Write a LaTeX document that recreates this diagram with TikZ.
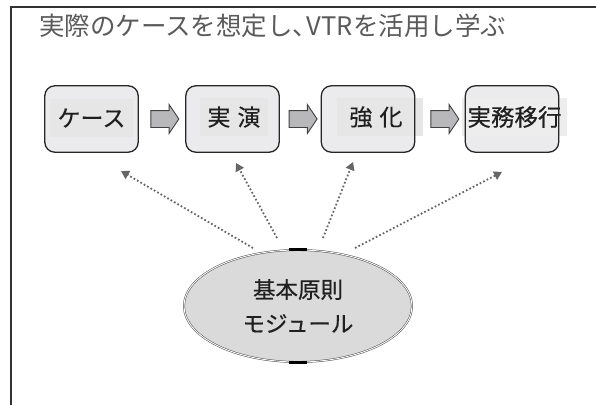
\documentclass[tikz,border=0pt]{standalone}
\usepackage{fontspec}
\setmainfont{Noto Sans CJK JP}
\usetikzlibrary{arrows.meta,shapes.geometric,shapes.arrows}
\definecolor{framec}{HTML}{333333}
\definecolor{titlec}{HTML}{5A5A5A}
\definecolor{boxfill}{HTML}{EBEBED}
\definecolor{hlfill}{HTML}{E6E6E7}
\definecolor{arrfill}{HTML}{B8B8BA}
\definecolor{ellfill}{HTML}{DADADA}
\definecolor{dotc}{HTML}{666666}
\tikzset{
  stepbox/.style={rounded corners=10pt, minimum width=93pt, minimum height=66pt, fill=boxfill, inner sep=0pt},
  boxline/.style={draw=black!85, line width=1.3pt, rounded corners=10pt},
  hl/.style={fill=hlfill, inner sep=0pt, minimum height=38pt, text=black!88, font=\fontsize{23}{25}\selectfont\addfontfeature{FakeBold=0.4}},
  barrow/.style={single arrow, draw=black!75, fill=arrfill, line width=0.9pt, minimum height=28pt, minimum width=28pt, inner sep=8pt, single arrow head extend=6pt, single arrow tip angle=112},
  dotarrow/.style={draw=dotc, line width=1.8pt, dash pattern=on 1.7pt off 2.2pt, -{Triangle[length=8pt,width=9pt]}},
}
\begin{document}
\begin{tikzpicture}[x=1pt,y=-1pt]
\useasboundingbox (0,0) rectangle (596,404);
% frame
\draw[framec, line width=2pt] (597,7) -- (11,7) -- (11,405);
% title
\node[anchor=base west, inner sep=0pt, text=titlec, font=\fontsize{25.5}{28}\selectfont] (title) at (39,36) {実際のケースを想定し、\hspace{-0.45em}VTRを活用し学ぶ};
% boxes
\node[stepbox] (k1) at (91.5,119) {};
\node[stepbox] (k2) at (232.5,119) {};
\node[stepbox] (k3) at (368,119) {};
\node[stepbox] (k4) at (512,119) {};
% text highlights with labels
\node[hl, minimum width=83pt] (t1) at (91.5,118) {ケース};
\node[hl, minimum width=68pt] (t2) at (234,117) {実\hspace{7pt}演};
\node[hl, minimum width=86pt] (t3) at (380,117) {\hspace{-8pt}強\hspace{7pt}化};
\node[hl, minimum width=105pt, fill=hlfill!70!white, font=\fontsize{23.5}{25}\selectfont\addfontfeature{FakeBold=0.4}] (t4) at (514.5,117) {実務移行};
% box borders
\foreach \b in {k1,k2,k3,k4}{
  \draw[boxline] (\b.north west) rectangle (\b.south east);
}
% block arrows
\path (k1.east) -- (k2.west) node[midway, barrow] (a1) {};
\path (k2.east) -- (k3.west) node[midway, barrow] (a2) {};
\path (k3.east) -- (k4.west) node[midway, barrow, xshift=2pt] (a3) {};
% ellipse
\node[ellipse, minimum width=228pt, minimum height=112pt, fill=ellfill, draw=black!70, line width=0.5pt, double=white, double distance=0.9pt, align=center, text=black!88, font=\fontsize{22.5}{34}\selectfont\addfontfeature{FakeBold=0.4}] (base) at (298,306) {基本原則\\モジュール};
\draw[black, line width=3pt] ([xshift=-9pt]base.north) -- ([xshift=9pt]base.north);
\draw[black, line width=3pt] ([xshift=-9pt]base.south) -- ([xshift=9pt]base.south);
% dotted arrows
\coordinate (s1) at (253,248);
\coordinate (s2) at (277,238);
\coordinate (s3) at (323,238);
\coordinate (s4) at (355,248);
\coordinate (e1) at (121,171);
\coordinate (e2) at (236,163);
\coordinate (e3) at (353,162);
\coordinate (e4) at (502,172);
\draw[dotarrow] (s1) -- (e1);
\draw[dotarrow] (s2) -- (e2);
\draw[dotarrow] (s3) -- (e3);
\draw[dotarrow] (s4) -- (e4);
\end{tikzpicture}
\end{document}
